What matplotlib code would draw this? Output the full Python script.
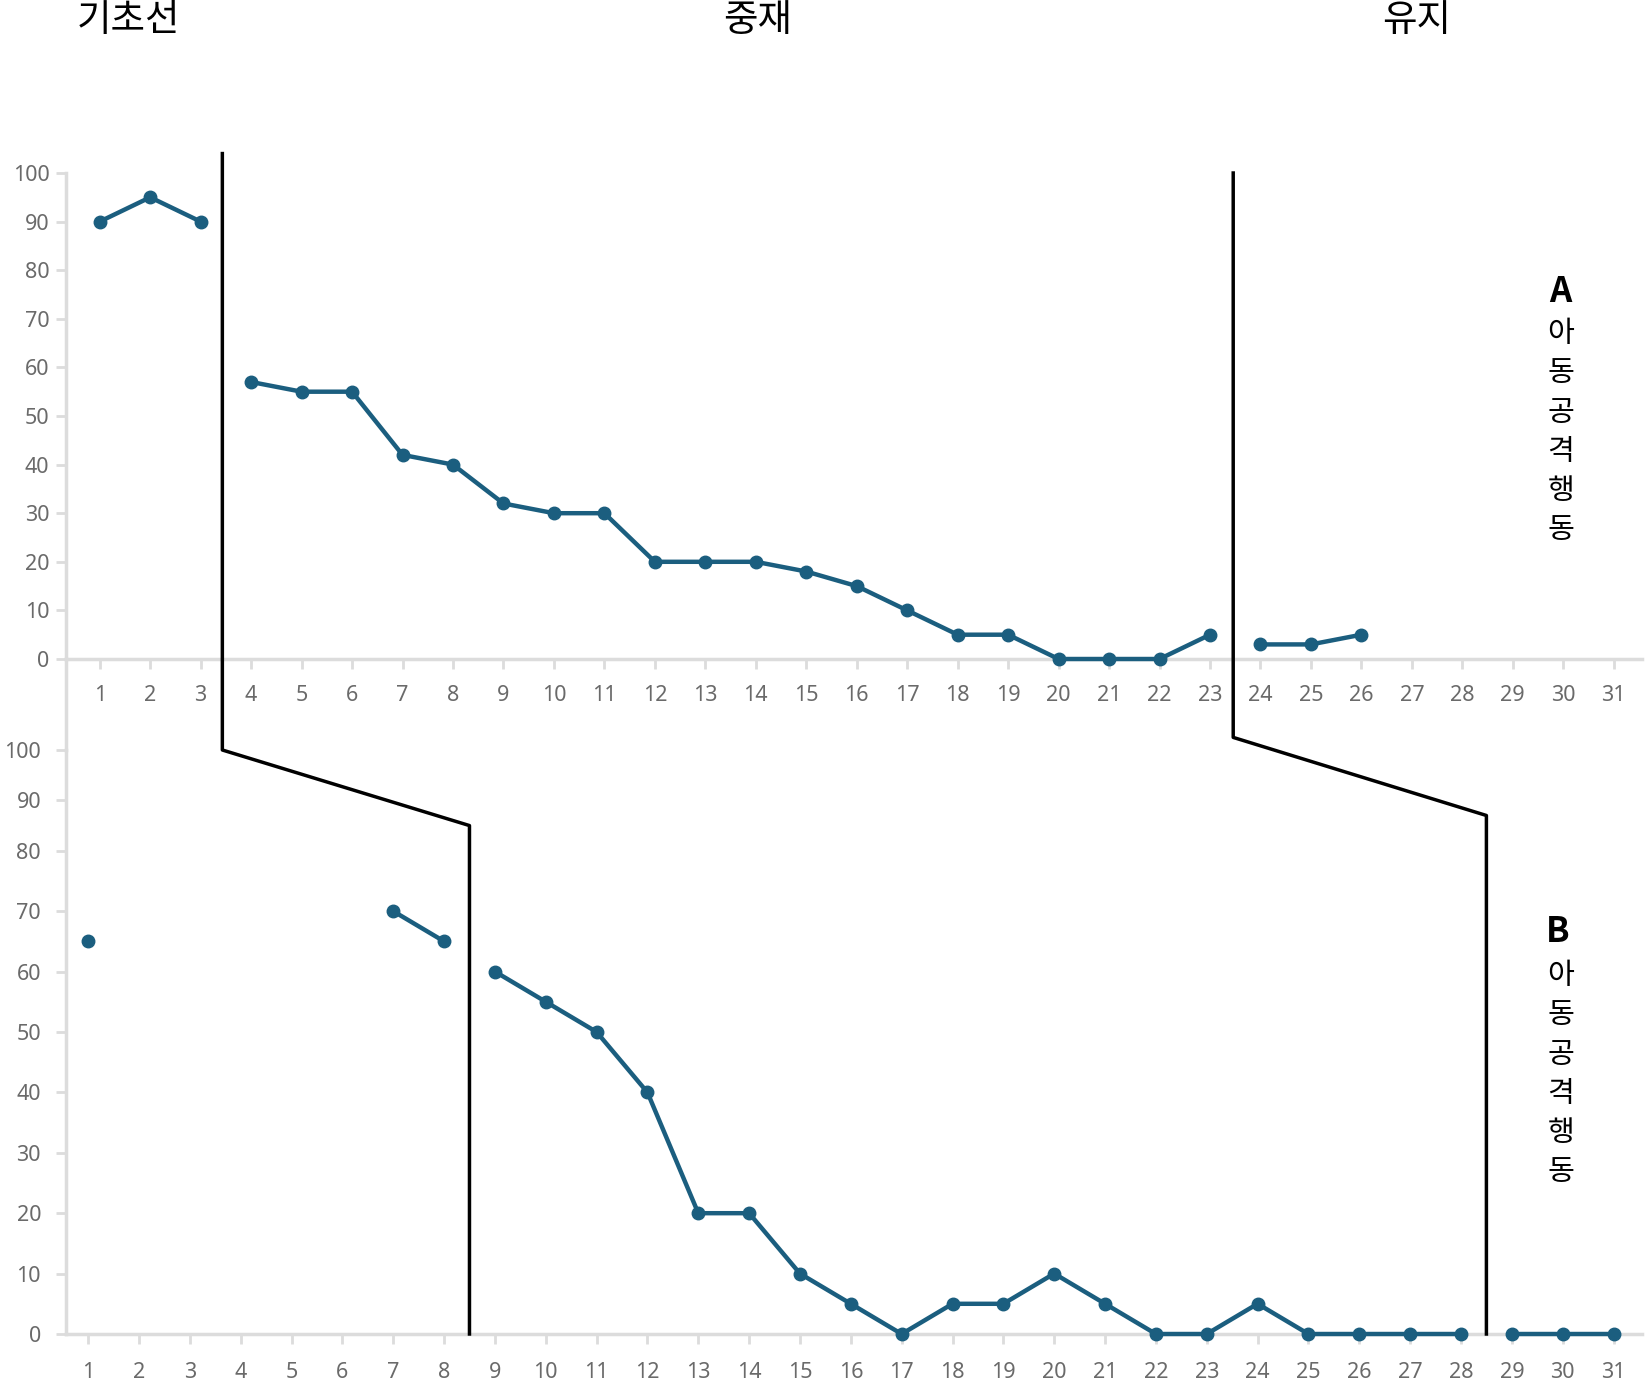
import numpy as np
import matplotlib
matplotlib.use('Agg')
import matplotlib.pyplot as plt
from matplotlib.lines import Line2D

plt.rcParams['font.family'] = ['Noto Sans CJK KR', 'DejaVu Sans']

# sessions and percent of intervals with aggressive behaviour
sessions = np.arange(1, 32)
nan = np.nan
child_a = [90, 95, 90, 57, 55, 55, 42, 40, 32, 30, 30, 20, 20, 20, 18, 15,
           10, 5, 5, 0, 0, 0, 5, 3, 3, 5, nan, nan, nan, nan, nan]
child_b = [65, nan, nan, nan, nan, nan, 70, 65, 60, 55, 50, 40, 20, 20, 10, 5,
           0, 5, 5, 10, 5, 0, 0, 5, 0, 0, 0, 0, 0, 0, 0]
# phase changes (between sessions)
phase_a = [3.5, 23.5]
phase_b = [8.5, 28.5]
phase_names = ['기초선', '중재', '유지']
panel_labels = ['A', 'B']
panel_text = '아동공격행동'
yticks = np.arange(0, 101, 10)

W, H = 1645, 1380
def fx(px):
    return px / W
def fy(py):
    return 1 - py / H

line_col = '#1b5e7f'
axis_col = '#dcdcdc'
lab_col = '#6a6a6a'

fig = plt.figure(figsize=(W / 100, H / 100), dpi=100)
ax_top = fig.add_axes([fx(66), fy(659), fx(1642) - fx(66), (659 - 173) / H])
ax_bot = fig.add_axes([fx(66), fy(1334), fx(1642) - fx(66), (1334 - 750) / H])

# bottom panel has a squeezed top part (80-100) in the original
def fwd(y):
    y = np.asarray(y, dtype=float)
    return np.where(y <= 80, y, 80 + (y - 80) * 0.834)
def inv(t):
    t = np.asarray(t, dtype=float)
    return np.where(t <= 80, t, 80 + (t - 80) / 0.834)
ax_bot.set_yscale('function', functions=(fwd, inv))

ax_top.set_xlim(0.332, 31.56)
ax_bot.set_xlim(0.565, 31.56)
for ax, vals, phases, pad, xpad in [(ax_top, child_a, phase_a, 5, 12),
                                     (ax_bot, child_b, phase_b, 11, 13)]:
    vals = np.array(vals, dtype=float)
    edges = [0] + phases + [32]
    for lo, hi in zip(edges[:-1], edges[1:]):
        m = (sessions > lo) & (sessions < hi)
        if np.all(np.isnan(vals[m])):
            continue
        ax.plot(sessions[m], vals[m], '-o', color=line_col, lw=3.2, ms=9,
                clip_on=False, zorder=5)
    ax.set_ylim(0, 100)
    ax.set_yticks(yticks)
    ax.set_xticks(sessions)
    for s in ['top', 'right']:
        ax.spines[s].set_visible(False)
    for s in ['left', 'bottom']:
        ax.spines[s].set_color(axis_col)
        ax.spines[s].set_linewidth(2.5)
    ax.tick_params(axis='both', colors=axis_col, labelcolor=lab_col,
                   length=7, width=2, labelsize=15.5)
    ax.tick_params(axis='y', pad=pad)
    ax.tick_params(axis='x', pad=xpad)
    ax.minorticks_off()
    for t in ax.get_xticklabels() + ax.get_yticklabels():
        t.set_fontfamily(['Noto Sans', 'DejaVu Sans'])

# left axis continues between panels
fig.add_artist(Line2D([fx(66), fx(66)], [fy(659), fy(750)], transform=fig.transFigure,
                      color=axis_col, lw=2.5))

# phase change lines running through both panels
to_fig = fig.transFigure.inverted()
for xt, xb, y_start, y_knee, y_foot in [(phase_a[0] - 0.07, phase_b[0], 104, 100, 85),
                                        (phase_a[1] - 0.04, phase_b[1], 100, 102.5, 87)]:
    p0 = ax_top.transData.transform((xt, y_start))
    p1 = (p0[0], ax_bot.transData.transform((1, y_knee))[1])
    p2 = ax_bot.transData.transform((xb, y_foot))
    p3 = ax_bot.transData.transform((xb, 0))
    pts = to_fig.transform(np.array([p0, p1, p2, p3]))
    fig.add_artist(Line2D(pts[:, 0], pts[:, 1], transform=fig.transFigure,
                          color='black', lw=2.5, zorder=10))

# phase titles
for name, x in zip(phase_names, [128, 758, 1417]):
    fig.text(fx(x), fy(20), name, fontsize=27, ha='center', va='center')

# panel labels
for lab, xl, yl, y0 in [(panel_labels[0], 1560, 291, 334), (panel_labels[1], 1558, 932, 976)]:
    fig.text(fx(xl), fy(yl), lab, fontsize=25, fontweight='bold', ha='center', va='center')
    for i, ch in enumerate(panel_text):
        fig.text(fx(1561), fy(y0 + 39.3 * i), ch, fontsize=21, ha='center', va='center')

fig.savefig('out.png', dpi=100)
